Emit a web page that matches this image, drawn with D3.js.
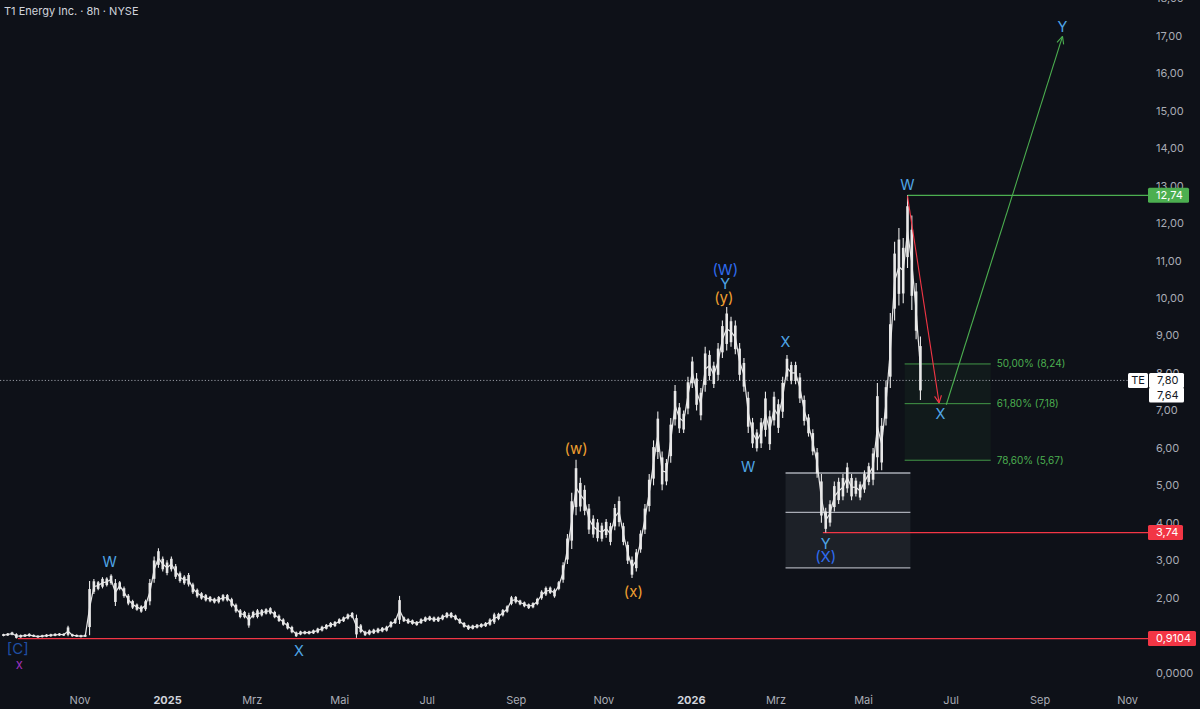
<!DOCTYPE html>
<html><head><meta charset="utf-8">
<script src="https://cdn.jsdelivr.net/npm/d3@7"></script>
<style>html,body{margin:0;background:#0e1118;overflow:hidden}svg{display:block}</style>
</head><body>
<svg id="c" width="1200" height="709"></svg>
<script>
const title = "T1 Energy Inc. · 8h · NYSE";
// bars: one bar every 3 days starting at barStart, [low, high]
const barStart = "2024-09-09";
const barStepDays = 3;
const barRanges = [
[0.97,1.04],[0.98,1.06],[1.0,1.09],[0.91,1.05],[0.93,1.02],[0.95,1.03],[0.96,1.05],[0.95,1.02],[0.93,1.0],[0.94,1.01],
[0.95,1.03],[0.96,1.04],[0.97,1.05],[0.98,1.06],[0.98,1.05],[0.97,1.25],[0.96,1.04],[0.95,1.02],[0.94,1.01],[0.95,1.02],
[1.0,2.45],[2.1,2.5],[2.2,2.45],[2.25,2.55],[2.3,2.55],[2.35,2.63],[1.78,2.5],[2.2,2.45],[2.0,2.3],[1.8,2.1],
[1.7,1.95],[1.65,1.85],[1.6,1.8],[1.65,1.95],[1.8,2.5],[2.4,3.1],[2.8,3.32],[2.7,3.1],[2.6,3.0],[2.7,3.1],
[2.5,2.9],[2.4,2.7],[2.35,2.6],[2.3,2.66],[2.1,2.4],[2.0,2.25],[1.95,2.15],[1.9,2.1],[1.88,2.05],[1.85,2.0],
[1.85,2.05],[1.9,2.1],[1.9,2.1],[1.75,2.0],[1.6,1.85],[1.45,1.7],[1.45,1.65],[1.2,1.6],[1.45,1.65],[1.45,1.7],
[1.5,1.7],[1.55,1.72],[1.55,1.75],[1.45,1.65],[1.35,1.55],[1.25,1.45],[1.15,1.35],[1.05,1.25],[0.95,1.1],[1.0,1.12],
[1.02,1.12],[1.02,1.12],[1.03,1.15],[1.05,1.2],[1.1,1.25],[1.15,1.3],[1.2,1.35],[1.22,1.38],[1.3,1.45],[1.35,1.5],
[1.42,1.58],[1.45,1.62],[0.93,1.55],[1.05,1.3],[0.98,1.12],[1.0,1.15],[1.03,1.17],[1.05,1.2],[1.08,1.22],[1.1,1.25],
[1.2,1.38],[1.3,1.45],[1.3,2.05],[1.35,1.5],[1.3,1.45],[1.28,1.42],[1.25,1.38],[1.3,1.45],[1.35,1.5],[1.38,1.52],
[1.35,1.5],[1.35,1.5],[1.4,1.55],[1.45,1.62],[1.45,1.62],[1.4,1.55],[1.3,1.45],[1.2,1.35],[1.14,1.28],[1.15,1.28],
[1.18,1.3],[1.2,1.32],[1.22,1.35],[1.25,1.45],[1.3,1.6],[1.4,1.6],[1.5,1.7],[1.6,1.8],[1.8,2.05],[1.85,2.05],
[1.8,1.95],[1.75,1.9],[1.7,1.85],[1.72,1.88],[1.8,2.0],[1.95,2.2],[2.05,2.3],[2.1,2.3],[2.0,2.25],[2.2,2.45],
[2.4,2.95],[2.9,3.7],[3.3,4.8],[4.2,5.68],[4.3,5.2],[4.2,5.0],[3.7,4.5],[3.6,4.2],[3.5,4.1],[3.5,4.0],
[3.6,4.1],[3.4,4.0],[3.8,4.5],[3.9,4.7],[3.4,4.0],[2.9,3.5],[2.53,3.1],[2.7,3.3],[3.2,3.8],[3.7,4.5],
[4.3,5.3],[5.0,6.2],[5.7,6.97],[4.87,5.9],[5.0,5.7],[5.6,6.8],[6.6,7.68],[6.4,7.2],[6.4,7.0],[6.9,7.9],
[7.6,8.43],[7.0,8.0],[6.74,7.6],[7.5,8.7],[7.8,8.6],[7.6,8.3],[7.8,8.8],[8.4,9.4],[8.6,9.76],[8.7,9.5],
[8.5,9.4],[7.8,8.8],[7.5,8.4],[6.4,7.5],[6.0,6.8],[5.9,6.5],[6.0,6.8],[6.3,7.5],[5.94,7.0],[6.6,7.5],
[6.4,7.3],[6.8,7.9],[7.8,8.48],[7.7,8.3],[7.7,8.3],[7.2,8.0],[6.6,7.4],[6.3,6.9],[5.8,6.5],[5.2,6.0],
[4.0,5.3],[3.74,4.4],[3.9,4.6],[4.3,5.1],[4.5,5.2],[4.6,5.3],[4.8,5.6],[4.6,5.3],[4.7,5.2],[4.6,5.1],
[4.8,5.4],[5.0,5.6],[5.0,6.0],[5.4,7.73],[5.4,6.8],[6.6,7.8],[7.6,9.6],[9.4,11.5],[9.8,11.87],[9.86,11.6],
[10.8,12.74],[9.68,12.2],[8.9,10.4],[7.28,8.97]
];
const lastPrice = 7.80;
const lastClose = 7.64;
const symbol = "TE";

const xTickDates = ["2024-11-01","2025-01-01","2025-03-01","2025-05-01","2025-07-01","2025-09-01","2025-11-01","2026-01-01","2026-03-01","2026-05-01","2026-07-01","2026-09-01","2026-11-01"];
const xTickLabels = ["Nov","2025","Mrz","Mai","Jul","Sep","Nov","2026","Mrz","Mai","Jul","Sep","Nov"];
const yTickValues = [0,1,2,3,4,5,6,7,8,9,10,11,12,13,14,15,16,17,18];

const levels = [
  {from:"2024-09-19", price:0.9104, label:"0,9104", kind:"red"},
  {from:"2026-04-03", price:3.74, label:"3,74", kind:"red"},
  {from:"2026-06-01", price:12.74, label:"12,74", kind:"green"}
];
const waveLabels = [
  ["2024-09-19",0.63,"[C]","navy"],
  ["2024-09-20",0.21,"x","purple"],
  ["2024-11-22",2.95,"W","light"],
  ["2025-04-03",0.58,"X","light"],
  ["2025-10-13",5.97,"(w)","orange"],
  ["2025-11-22",2.15,"(x)","orange"],
  ["2026-01-25",10.75,"(W)","blue"],
  ["2026-01-25",10.37,"Y","light"],
  ["2026-01-24",10.0,"(y)","orange"],
  ["2026-03-08",8.83,"X","light"],
  ["2026-02-10",5.49,"W","light"],
  ["2026-04-05",3.43,"Y","light"],
  ["2026-04-05",3.09,"(X)","blue"],
  ["2026-06-01",13.02,"W","light"],
  ["2026-06-24",6.9,"X","light"],
  ["2026-09-17",17.23,"Y","light"]
];
const arrows = [
  {from:["2026-06-01",12.72], to:["2026-06-23",7.2], kind:"red"},
  {from:["2026-06-28",7.15], to:["2026-09-17",16.98], kind:"green"}
];
const fibFrom = "2026-05-30", fibTo = "2026-07-29";
const fibLevels = [0.5, 0.618, 0.786];
const fibPrices = [8.24, 7.18, 5.67];
const fibLabels = ["50,00% (8,24)","61,80% (7,18)","78,60% (5,67)"];
const boxFrom = "2026-03-08", boxTo = "2026-06-03";
const boxPrices = [5.33, 4.28, 2.80];

const colors = {light:"#4fa6e6", blue:"#2f6cf0", navy:"#1f4fa3", purple:"#9b30b8", orange:"#f0a030", red:"#f23645", green:"#4caf50"};

const parse = d3.timeParse("%Y-%m-%d");
const W = 1200, H = 709, plotRight = 1148, plotBottom = 690;
const svg = d3.select("#c");
svg.append("rect").attr("width",W).attr("height",H).attr("fill","#0e1118");

const x = d3.scaleTime().domain([new Date(2024,8,6,14), new Date(2026,10,15,14)]).range([0, plotRight]);
const y = d3.scaleLinear().domain([0,17]).range([672.7, 35.7]);

svg.append("defs").append("clipPath").attr("id","plot").append("rect").attr("x",0).attr("y",0).attr("width",plotRight).attr("height",plotBottom);
const g = svg.append("g").attr("clip-path","url(#plot)");

// grey box
const bx0 = x(parse(boxFrom)), bx1 = x(parse(boxTo));
g.append("rect").attr("x",bx0).attr("y",y(boxPrices[0])).attr("width",bx1-bx0).attr("height",y(boxPrices[2])-y(boxPrices[0])).attr("fill","rgba(200,205,220,0.085)");
boxPrices.forEach(p=>{
  g.append("line").attr("x1",bx0).attr("x2",bx1).attr("y1",y(p)).attr("y2",y(p)).attr("stroke","#a9acb5").attr("stroke-width",1.3);
});

// fib area
const fx0 = x(parse(fibFrom)), fx1 = x(parse(fibTo));
g.append("rect").attr("x",fx0).attr("y",y(fibPrices[0])).attr("width",fx1-fx0).attr("height",y(fibPrices[2])-y(fibPrices[0])).attr("fill","rgba(76,175,80,0.06)");
fibPrices.forEach((p,i)=>{
  g.append("line").attr("x1",fx0).attr("x2",fx1).attr("y1",y(p)).attr("y2",y(p)).attr("stroke","#4caf50").attr("stroke-width",1).attr("opacity",0.85);
  g.append("text").attr("x",fx1+6).attr("y",y(p)).attr("dy","0.35em").attr("fill","#4caf50").attr("font-family","Inter, Roboto, sans-serif").attr("font-size",10).text(fibLabels[i]);
});

// last price dotted line
g.append("line").attr("x1",0).attr("x2",1128).attr("y1",y(lastPrice)).attr("y2",y(lastPrice)).attr("stroke","#9598a1").attr("stroke-width",1).attr("stroke-dasharray","1.2,2");

levels.forEach(l=>{
  g.append("line").attr("x1",x(parse(l.from))).attr("x2",plotRight).attr("y1",y(l.price)).attr("y2",y(l.price)).attr("stroke",colors[l.kind]).attr("stroke-width",1.2);
});

// bars: wick + body
const start = parse(barStart);
const bx = (i)=>x(d3.timeDay.offset(start,i*barStepDays));
g.selectAll("line.wick").data(barRanges).join("line").attr("class","wick")
  .attr("x1",(d,i)=>bx(i)).attr("x2",(d,i)=>bx(i))
  .attr("y1",d=>y(d[1])).attr("y2",d=>y(d[0]))
  .attr("stroke","#e8e8e8").attr("stroke-width",1.1);
g.selectAll("rect.body").data(barRanges).join("rect").attr("class","body")
  .attr("x",(d,i)=>bx(i)-1.3)
  .attr("width",2.6)
  .attr("y",d=>y(d[1]-(d[1]-d[0])*0.15))
  .attr("height",d=>Math.max(1.5,y(d[0]+(d[1]-d[0])*0.15)-y(d[1]-(d[1]-d[0])*0.15)))
  .attr("fill","#e8e8e8");
// neighbouring-bar link so the body of one bar meets the next
g.selectAll("line.link").data(barRanges.slice(1)).join("line").attr("class","link")
  .attr("x1",(d,i)=>bx(i)).attr("x2",(d,i)=>bx(i+1))
  .attr("y1",(d,i)=>y((barRanges[i][0]+barRanges[i][1])/2))
  .attr("y2",d=>y((d[0]+d[1])/2))
  .attr("stroke","#e8e8e8").attr("stroke-width",1.2);

arrows.forEach(a=>{
  const x1 = x(parse(a.from[0])), y1 = y(a.from[1]), x2 = x(parse(a.to[0])), y2 = y(a.to[1]);
  const c = colors[a.kind];
  g.append("line").attr("x1",x1).attr("y1",y1).attr("x2",x2).attr("y2",y2).attr("stroke",c).attr("stroke-width",1.1);
  const ang = Math.atan2(y2-y1,x2-x1), L = 8;
  [0.45,-0.45].forEach(o=>{
    g.append("line").attr("x1",x2).attr("y1",y2).attr("x2",x2-L*Math.cos(ang+o)).attr("y2",y2-L*Math.sin(ang+o)).attr("stroke",c).attr("stroke-width",1.1);
  });
});

waveLabels.forEach(w=>{
  g.append("text").attr("x",x(parse(w[0]))).attr("y",y(w[1])).attr("dy","0.35em").attr("text-anchor","middle")
   .attr("fill",colors[w[3]]).attr("font-family","Inter, Roboto, sans-serif").attr("font-size",w[2]==="x"?13:(w[2].length>1?15:14.5)).text(w[2]);
});

svg.append("text").attr("x",4).attr("y",15).attr("fill","#d1d4dc").attr("font-family","Inter, Roboto, sans-serif").attr("font-size",11).text(title);

const yAxis = d3.axisRight(y).tickValues(yTickValues).tickSize(0).tickPadding(0)
  .tickFormat(v=> v===0 ? "0,0000" : d3.format(".2f")(v).replace(".",","));
const ya = svg.append("g").attr("transform","translate(1156,0)").call(yAxis);
ya.select(".domain").remove();
ya.selectAll("text").attr("fill","#a9acb5").attr("font-family","Inter, Roboto, sans-serif").attr("font-size",11);

const xAxis = d3.axisBottom(x).tickValues(xTickDates.map(parse)).tickSize(0).tickPadding(0)
  .tickFormat((d,i)=>xTickLabels[i]);
const xa = svg.append("g").attr("transform","translate(0,696)").call(xAxis);
xa.select(".domain").remove();
xa.selectAll("text").attr("fill",(d,i)=>/^\d{4}$/.test(xTickLabels[i])?"#d1d4dc":"#a9acb5")
  .attr("font-weight",(d,i)=>/^\d{4}$/.test(xTickLabels[i])?"bold":"normal")
  .attr("font-family","Inter, Roboto, sans-serif").attr("font-size",11);

function tag(x0, price, w, bg, fg, txt, dyOff){
  const yc = y(price) + (dyOff||0);
  svg.append("rect").attr("x",x0).attr("y",yc-7.5).attr("width",w).attr("height",15).attr("rx",1.5).attr("fill",bg);
  svg.append("text").attr("x",x0+(x0>=1148?8:w/2)).attr("y",yc).attr("dy","0.35em").attr("text-anchor",x0>=1148?"start":"middle")
    .attr("fill",fg).attr("font-family","Inter, Roboto, sans-serif").attr("font-size",11).text(txt);
}
levels.forEach(l=>{
  tag(1148, l.price, l.label.length>5?48:(l.label.length>4?41:35), colors[l.kind], "#ffffff", l.label);
});
tag(1128, lastPrice, 20, "#ffffff", "#131722", symbol);
tag(1149, lastPrice, 35, "#ffffff", "#131722", d3.format(".2f")(lastPrice).replace(".",","));
tag(1149, lastPrice, 35, "#ffffff", "#131722", d3.format(".2f")(lastClose).replace(".",","), 14.5);
</script>
</body></html>
